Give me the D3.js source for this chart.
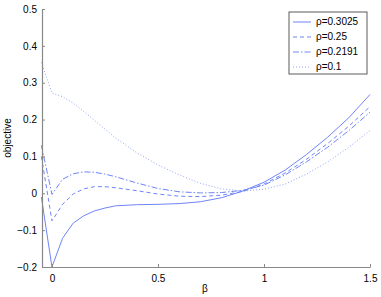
<!DOCTYPE html>
<html>
<head>
<meta charset="utf-8">
<script src="https://cdn.jsdelivr.net/npm/d3@7"></script>
<style>
  body { margin: 0; background: #fff; }
  text { font-family: "Liberation Sans", Arial, sans-serif; font-size: 10px; fill: #000; }
</style>
</head>
<body>
<div id="chart"></div>
<script>
// valores
var betas = [-0.05, 0, 0.05, 0.1, 0.15, 0.2, 0.25, 0.3, 0.4, 0.5, 0.6, 0.7, 0.8, 0.9, 1.0, 1.1, 1.2, 1.3, 1.4, 1.5];
var rho03025 = [-0.01, -0.2, -0.122, -0.081, -0.061, -0.048, -0.04, -0.034, -0.031, -0.03, -0.028, -0.023, -0.012, 0.006, 0.03, 0.063, 0.105, 0.152, 0.205, 0.268];
var rho025 = [0.10, -0.075, -0.03, -0.002, 0.012, 0.018, 0.018, 0.015, 0.007, -0.002, -0.008, -0.009, -0.005, 0.005, 0.025, 0.055, 0.092, 0.135, 0.182, 0.235];
var rho02191 = [0.13, -0.003, 0.038, 0.053, 0.058, 0.057, 0.052, 0.045, 0.028, 0.013, 0.004, 0.001, 0.002, 0.008, 0.022, 0.05, 0.085, 0.125, 0.17, 0.22];
var rho01 = [0.355, 0.272, 0.262, 0.245, 0.222, 0.198, 0.174, 0.15, 0.11, 0.077, 0.05, 0.027, 0.012, 0.006, 0.011, 0.025, 0.052, 0.085, 0.125, 0.17];
var legendLabels = ["ρ=0.3025", "ρ=0.25", "ρ=0.2191", "ρ=0.1"];
var xTicks = [0, 0.5, 1, 1.5];
var yTicks = [-0.2, -0.1, 0, 0.1, 0.2, 0.3, 0.4, 0.5];

var width = 381, height = 297;
var lineColor = "#6f85f7";
var dashes = [null, "4,3", "6,2,1.5,2", "1,2"];
var series = [rho03025, rho025, rho02191, rho01];

var svg = d3.select("#chart").append("svg")
    .attr("width", width)
    .attr("height", height);

var x = d3.scaleLinear().domain([-0.047, 1.5]).range([42, 370]);
var y = d3.scaleLinear().domain([-0.2, 0.5]).range([267, 9]);

// linhas
var line = d3.line()
    .x((d, i) => x(betas[i]))
    .y(d => y(d));

series.forEach(function (s, k) {
    svg.append("path")
        .datum(s)
        .attr("d", line)
        .attr("fill", "none")
        .attr("stroke", lineColor)
        .attr("stroke-width", 1)
        .attr("stroke-dasharray", dashes[k])
        .attr("opacity", k == 3 ? 0.75 : 1);
});

// eixos
var fmt = d => d < 0 ? "\u2212" + Math.abs(d) : String(d);
var xAxis = svg.append("g")
    .attr("transform", `translate(0,${y(-0.2)})`)
    .call(d3.axisBottom(x).tickValues(xTicks).tickSizeInner(-3).tickSizeOuter(0).tickPadding(8).tickFormat(fmt));
var yAxis = svg.append("g")
    .attr("transform", `translate(${x(-0.047)},0)`)
    .call(d3.axisLeft(y).tickValues(yTicks).tickSizeInner(-3).tickSizeOuter(0).tickPadding(5).tickFormat(fmt));

[xAxis, yAxis].forEach(function (a) {
    a.select(".domain").attr("stroke", "#888").attr("stroke-width", 1.2);
    a.selectAll(".tick line").attr("stroke", "#888");
    a.selectAll("text").attr("font-size", 10).attr("fill", "#000")
        .attr("font-family", '"Liberation Sans", Arial, sans-serif');
});

// rótulos dos eixos
svg.append("text")
    .attr("x", 205)
    .attr("y", 292)
    .attr("text-anchor", "middle")
    .text("β");

svg.append("text")
    .attr("transform", "translate(11,138) rotate(-90)")
    .attr("text-anchor", "middle")
    .text("objective");

// legenda
var legend = svg.append("g").attr("transform", "translate(289,12)");
legend.append("rect")
    .attr("width", 78)
    .attr("height", 62)
    .attr("fill", "#fff")
    .attr("stroke", "#333")
    .attr("stroke-width", 0.8);

legendLabels.forEach(function (lab, k) {
    var yy = 10 + k * 15;
    legend.append("line")
        .attr("x1", 4).attr("x2", 22)
        .attr("y1", yy).attr("y2", yy)
        .attr("stroke", lineColor)
        .attr("stroke-dasharray", dashes[k])
        .attr("opacity", k == 3 ? 0.75 : 1);
    legend.append("text")
        .attr("x", 27)
        .attr("y", yy)
        .attr("dominant-baseline", "middle")
        .text(lab);
});
</script>
</body>
</html>
